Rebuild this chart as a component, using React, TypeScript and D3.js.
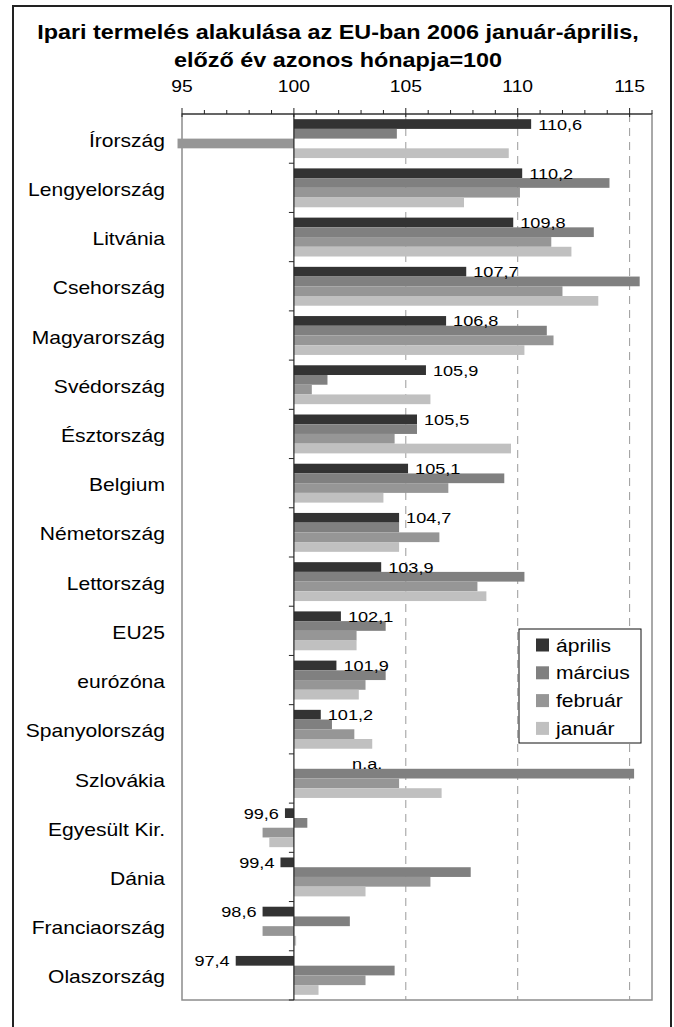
import React, { useEffect, useRef } from 'react';
import * as d3 from 'd3';

const categories = [
  'Írország', 'Lengyelország', 'Litvánia', 'Csehország', 'Magyarország',
  'Svédország', 'Észtország', 'Belgium', 'Németország', 'Lettország',
  'EU25', 'eurózóna', 'Spanyolország', 'Szlovákia', 'Egyesült Kir.',
  'Dánia', 'Franciaország', 'Olaszország'
];
const seriesNames = ['április', 'március', 'február', 'január'];
const aprilis = [110.6, 110.2, 109.8, 107.7, 106.8, 105.9, 105.5, 105.1, 104.7, 103.9, 102.1, 101.9, 101.2, null, 99.6, 99.4, 98.6, 97.4];
const marcius = [104.6, 114.1, 113.4, 115.45, 111.3, 101.5, 105.5, 109.4, 104.7, 110.3, 104.1, 104.1, 101.7, 115.2, 100.6, 107.9, 102.5, 104.5];
const februar = [94.8, 110.1, 111.5, 112.0, 111.6, 100.8, 104.5, 106.9, 106.5, 108.2, 102.8, 103.2, 102.7, 104.7, 98.6, 106.1, 98.6, 103.2];
const januar = [109.6, 107.6, 112.4, 113.6, 110.3, 106.1, 109.7, 104.0, 104.7, 108.6, 102.8, 102.9, 103.5, 106.6, 98.9, 103.2, 100.1, 101.1];
const xTicks = [95, 100, 105, 110, 115];
const gridValues = [105, 110, 115];
const colors = ['#333333', '#808080', '#969696', '#c0c0c0'];
const titleLines = [
  'Ipari termelés alakulása az EU-ban 2006 január-április,',
  'előző év azonos hónapja=100'
];

const FONT = '"Liberation Sans", Arial, sans-serif';
const SX = 1.17; // the source picture is stretched horizontally

function App() {
  const svgRef = useRef<SVGSVGElement>(null);

  useEffect(() => {
    if (!svgRef.current) return;
    const width = 674;
    const height = 1027;
    const plot = { left: 182, right: 652, top: 114, bottom: 1000 };

    const svg = d3.select(svgRef.current);
    svg.selectAll('*').remove();
    svg.attr('width', width).attr('height', height);

    const txt = (x: number, y: number, s: string, size: number, anchor = 'start', weight = 'normal') =>
      svg.append('text')
        .attr('transform', `translate(${x},${y}) scale(${SX},1)`)
        .attr('text-anchor', anchor)
        .attr('font-family', FONT)
        .attr('font-size', size)
        .attr('font-weight', weight)
        .attr('fill', '#000')
        .text(s);

    const x = d3.scaleLinear().domain([95, 116]).range([plot.left, plot.right]);
    const y = d3.scaleBand<string>()
      .domain(categories)
      .range([plot.top, plot.bottom])
      .paddingInner(0.21)
      .paddingOuter(0.105);
    const ySub = d3.scaleBand<string>().domain(seriesNames).range([0, y.bandwidth()]);

    // outer frame
    svg.append('rect')
      .attr('x', 13).attr('y', 6).attr('width', 658).attr('height', 1060)
      .attr('fill', 'white').attr('stroke', '#222').attr('stroke-width', 2);

    // title
    txt(width / 2 + 1, 39, titleLines[0], 20, 'middle', 'bold');
    txt(width / 2 + 1, 67, titleLines[1], 20, 'middle', 'bold');

    // plot frame
    svg.append('rect')
      .attr('x', plot.left).attr('y', plot.top)
      .attr('width', plot.right - plot.left).attr('height', plot.bottom - plot.top)
      .attr('fill', 'none').attr('stroke', '#8c8c8c').attr('stroke-width', 1.5);

    // dashed gridlines
    svg.selectAll('.grid').data(gridValues).enter().append('line')
      .attr('x1', d => x(d)).attr('x2', d => x(d))
      .attr('y1', plot.top).attr('y2', plot.bottom)
      .attr('stroke', '#9a9a9a').attr('stroke-width', 1)
      .attr('stroke-dasharray', '8,6');

    // bars
    const series = [aprilis, marcius, februar, januar];
    series.forEach((vals, si) => {
      categories.forEach((c, ci) => {
        const v = vals[ci];
        if (v == null) return;
        const x0 = x(100);
        const x1 = x(v);
        svg.append('rect')
          .attr('x', Math.min(x0, x1))
          .attr('y', (y(c) as number) + (ySub(seriesNames[si]) as number))
          .attr('width', Math.max(Math.abs(x1 - x0), 1))
          .attr('height', ySub.bandwidth())
          .attr('fill', colors[si]);
      });
    });

    // top axis
    svg.append('line')
      .attr('x1', plot.left).attr('x2', plot.right)
      .attr('y1', plot.top).attr('y2', plot.top)
      .attr('stroke', '#222').attr('stroke-width', 1.2);
    const minor = d3.range(95, 117, 1);
    svg.selectAll('.mtick').data(minor).enter().append('line')
      .attr('x1', d => x(d)).attr('x2', d => x(d))
      .attr('y1', d => (d % 5 === 0 ? plot.top - 6 : plot.top - 4))
      .attr('y2', d => (d % 5 === 0 ? plot.top + 3 : plot.top))
      .attr('stroke', '#222').attr('stroke-width', 1);
    xTicks.forEach(t => txt(x(t), 92, String(t), 16.5, 'middle'));

    // vertical axis at 100
    svg.append('line')
      .attr('x1', x(100)).attr('x2', x(100))
      .attr('y1', plot.top).attr('y2', plot.bottom)
      .attr('stroke', '#222').attr('stroke-width', 1.2);
    const step = y.step();
    d3.range(1, categories.length + 1).forEach(k => {
      svg.append('line')
        .attr('x1', x(100) - 5).attr('x2', x(100))
        .attr('y1', plot.top + k * step).attr('y2', plot.top + k * step)
        .attr('stroke', '#222').attr('stroke-width', 1);
    });

    // category labels
    categories.forEach(c => {
      txt(165, (y(c) as number) + y.bandwidth() / 2 + 8, c, 18, 'end');
    });

    // data labels (április)
    const fmt = (v: number) => d3.format('.1f')(v).replace('.', ',');
    categories.forEach((c, ci) => {
      const v = aprilis[ci];
      const cy = (y(c) as number) + (ySub(seriesNames[0]) as number) + ySub.bandwidth() / 2 + 5.5;
      if (v == null) {
        txt(x(102.6), cy, 'n.a.', 15.5, 'start');
      } else if (v >= 100) {
        txt(x(v) + 7, cy, fmt(v), 15.5, 'start');
      } else {
        txt(x(v) - 6, cy, fmt(v), 15.5, 'end');
      }
    });

    // legend
    const lg = { x: 519, y: 629, w: 122, h: 114 };
    svg.append('rect')
      .attr('x', lg.x).attr('y', lg.y).attr('width', lg.w).attr('height', lg.h)
      .attr('fill', 'white').attr('stroke', '#111').attr('stroke-width', 1);
    seriesNames.forEach((s, i) => {
      const cy = lg.y + 16 + i * 27.8;
      svg.append('rect')
        .attr('x', lg.x + 17).attr('y', cy - 6.5).attr('width', 13).attr('height', 13)
        .attr('fill', colors[i]);
      txt(lg.x + 37, cy + 6.5, s, 18, 'start');
    });
  }, []);

  return (
    <div style={{ position: 'absolute', left: 0, top: 0 }}>
      <svg ref={svgRef} style={{ display: 'block' }}></svg>
    </div>
  );
}

export default App;
